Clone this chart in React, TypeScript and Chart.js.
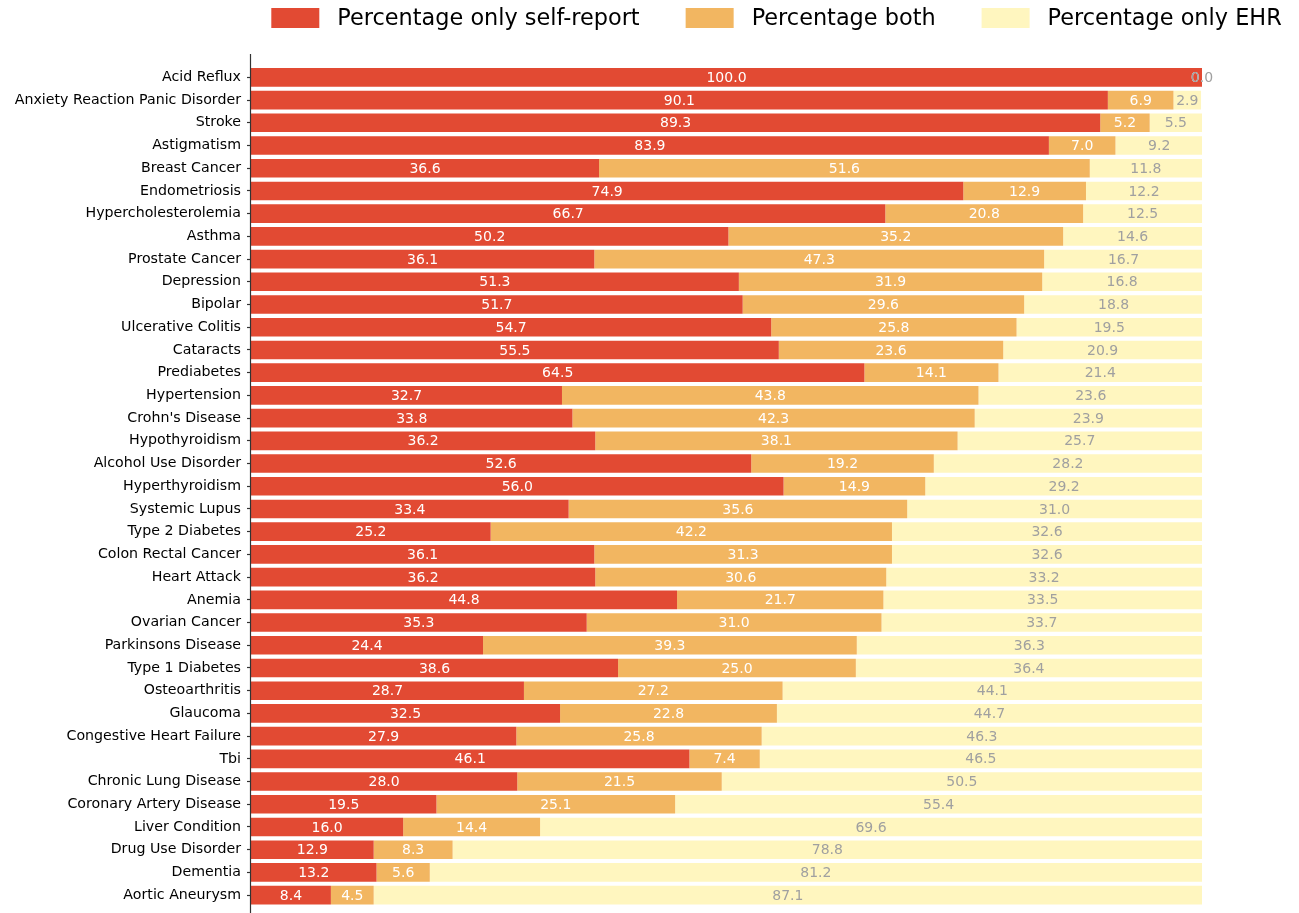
import React, { useEffect, useRef } from "react";
import { Chart, registerables } from "chart.js";

Chart.register(...registerables);

const categories = [
  "Acid Reflux", "Anxiety Reaction Panic Disorder", "Stroke", "Astigmatism", "Breast Cancer",
  "Endometriosis", "Hypercholesterolemia", "Asthma", "Prostate Cancer", "Depression",
  "Bipolar", "Ulcerative Colitis", "Cataracts", "Prediabetes", "Hypertension",
  "Crohn's Disease", "Hypothyroidism", "Alcohol Use Disorder", "Hyperthyroidism", "Systemic Lupus",
  "Type 2 Diabetes", "Colon Rectal Cancer", "Heart Attack", "Anemia", "Ovarian Cancer",
  "Parkinsons Disease", "Type 1 Diabetes", "Osteoarthritis", "Glaucoma", "Congestive Heart Failure",
  "Tbi", "Chronic Lung Disease", "Coronary Artery Disease", "Liver Condition", "Drug Use Disorder",
  "Dementia", "Aortic Aneurysm",
];

const onlySelfReport = [
  100.0, 90.1, 89.3, 83.9, 36.6, 74.9, 66.7, 50.2, 36.1, 51.3,
  51.7, 54.7, 55.5, 64.5, 32.7, 33.8, 36.2, 52.6, 56.0, 33.4,
  25.2, 36.1, 36.2, 44.8, 35.3, 24.4, 38.6, 28.7, 32.5, 27.9,
  46.1, 28.0, 19.5, 16.0, 12.9, 13.2, 8.4,
];

const both = [
  0.0, 6.9, 5.2, 7.0, 51.6, 12.9, 20.8, 35.2, 47.3, 31.9,
  29.6, 25.8, 23.6, 14.1, 43.8, 42.3, 38.1, 19.2, 14.9, 35.6,
  42.2, 31.3, 30.6, 21.7, 31.0, 39.3, 25.0, 27.2, 22.8, 25.8,
  7.4, 21.5, 25.1, 14.4, 8.3, 5.6, 4.5,
];

const onlyEHR = [
  0.0, 2.9, 5.5, 9.2, 11.8, 12.2, 12.5, 14.6, 16.7, 16.8,
  18.8, 19.5, 20.9, 21.4, 23.6, 23.9, 25.7, 28.2, 29.2, 31.0,
  32.6, 32.6, 33.2, 33.5, 33.7, 36.3, 36.4, 44.1, 44.7, 46.3,
  46.5, 50.5, 55.4, 69.6, 78.8, 81.2, 87.1,
];

const seriesNames = ["Percentage only self-report", "Percentage both", "Percentage only EHR"];
const seriesColors = ["#E24A33", "#F2B661", "#FFF6BF"];
const labelColors = ["#ffffff", "#ffffff", "#a0a0a0"];

const FONT = "'DejaVu Sans', sans-serif";

const legendPlugin = {
  id: "customLegend",
  afterDraw(chart: any) {
    const ctx = chart.ctx;
    ctx.save();
    ctx.font = `22.4px ${FONT}`;
    const boxW = 48, boxH = 20, gap = 18, spacing = 46;
    const widths = seriesNames.map((n) => boxW + gap + ctx.measureText(n).width);
    const total = widths.reduce((a, b) => a + b, 0) + spacing * (widths.length - 1);
    const center = 776.5;
    let x = center - total / 2;
    const y = 18;
    seriesNames.forEach((n, i) => {
      ctx.fillStyle = seriesColors[i];
      ctx.fillRect(x, y - boxH / 2, boxW, boxH);
      ctx.fillStyle = "#000";
      ctx.textAlign = "left";
      ctx.textBaseline = "middle";
      ctx.fillText(n, x + boxW + gap, y + 1);
      x += widths[i] + spacing;
    });
    ctx.restore();
  },
};

const spinePlugin = {
  id: "spine",
  afterDraw(chart: any) {
    const ctx = chart.ctx;
    const x = chart.chartArea.left - 0.5;
    ctx.save();
    ctx.strokeStyle = "#333333";
    ctx.lineWidth = 1.2;
    ctx.beginPath();
    ctx.moveTo(x, 54);
    ctx.lineTo(x, chart.height);
    ctx.stroke();
    ctx.restore();
  },
};

const valueLabelPlugin = {
  id: "valueLabels",
  afterDatasetsDraw(chart: any) {
    const ctx = chart.ctx;
    ctx.save();
    ctx.font = `14px ${FONT}`;
    ctx.textAlign = "center";
    ctx.textBaseline = "middle";
    chart.data.datasets.forEach((ds: any, di: number) => {
      const meta = chart.getDatasetMeta(di);
      meta.data.forEach((bar: any, i: number) => {
        const v = ds.data[i];
        const cx = (bar.x + bar.base) / 2;
        ctx.fillStyle = labelColors[di];
        ctx.fillText(v.toFixed(1), cx, bar.y + 1);
      });
    });
    ctx.restore();
  },
};

export default function App() {
  const ref = useRef<HTMLCanvasElement | null>(null);
  useEffect(() => {
    document.body.style.margin = "0";
    const canvas = ref.current;
    if (!canvas) return;
    const chart = new Chart(canvas, {
      type: "bar",
      data: {
        labels: categories,
        datasets: [onlySelfReport, both, onlyEHR].map((d, i) => ({
          label: seriesNames[i],
          data: d,
          backgroundColor: seriesColors[i],
          borderWidth: 0,
          barPercentage: 0.82,
          categoryPercentage: 1,
        })),
      },
      options: {
        indexAxis: "y",
        responsive: false,
        animation: false,
        layout: { padding: { top: 66, bottom: 6.5, left: 0, right: 97 } },
        plugins: {
          legend: { display: false },
          tooltip: { enabled: false },
        },
        scales: {
          x: {
            stacked: true,
            display: false,
            min: 0,
            max: 100,
          },
          y: {
            stacked: true,
            afterFit: (s: any) => {
              s.width = 251;
              s.paddingTop = 0;
              s.paddingBottom = 0;
            },
            border: { display: false },
            grid: {
              display: true,
              offset: false,
              drawOnChartArea: false,
              drawTicks: true,
              tickLength: 4,
              tickColor: "#333333",
              tickWidth: 1.2,
            },
            ticks: {
              color: "#000000",
              padding: 6,
              autoSkip: false,
              font: { family: FONT, size: 14.2 },
            },
          },
        },
      },
      plugins: [legendPlugin, spinePlugin, valueLabelPlugin],
    });
    return () => chart.destroy();
  }, []);
  return <canvas ref={ref} width={1299} height={913} style={{ display: "block" }} />;
}
